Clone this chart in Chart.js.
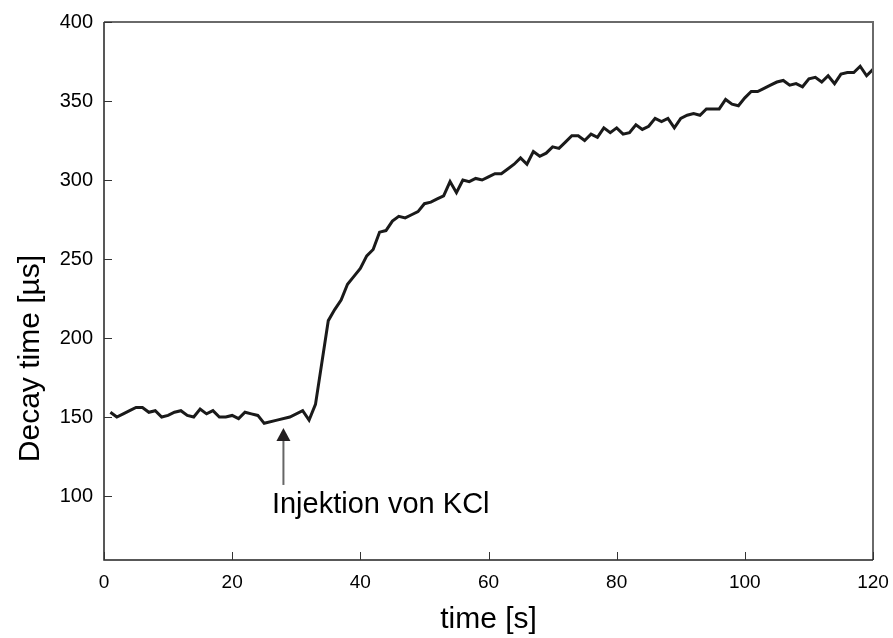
<!DOCTYPE html>
<html>
<head>
<meta charset="utf-8">
<script src="https://cdn.jsdelivr.net/npm/chart.js@4/dist/chart.umd.min.js"></script>
<style>
html,body{margin:0;padding:0;background:#fff;}
#wrap{width:893px;height:638px;}
</style>
</head>
<body>
<div id="wrap"><canvas id="c" width="893" height="638"></canvas></div>
<script>
const timeSeconds = [1,2,3,4,5,6,7,8,9,10,11,12,13,14,15,16,17,18,19,20,21,22,23,24,25,27,29,31,32,33,35,36,37,38,39,40,41,42,43,44,45,46,47,48,49,50,51,52,53,54,55,56,57,58,59,60,61,62,63,64,65,66,67,68,69,70,71,72,73,74,75,76,77,78,79,80,81,82,83,84,85,86,87,88,89,90,91,92,93,94,95,96,97,98,99,100,101,102,103,104,105,106,107,108,109,110,111,112,113,114,115,116,117,118,119,120];
const decayTime = [153,150,152,154,156,156,153,154,150,151,153,154,151,150,155,152,154,150,150,151,149,153,152,151,146,148,150,154,148,158,211,218,224,234,239,244,252,256,267,268,274,277,276,278,280,285,286,288,290,299,292,300,299,301,300,302,304,304,307,310,314,310,318,315,317,321,320,324,328,328,325,329,327,333,330,333,329,330,335,332,334,339,337,339,333,339,341,342,341,345,345,345,351,348,347,352,356,356,358,360,362,363,360,361,359,364,365,362,366,361,367,368,368,372,366,370];
const xTicks = [0,20,40,60,80,100,120];
const yTicks = [100,150,200,250,300,350,400];
const xTitle = "time [s]";
const yTitle = "Decay time [µs]";
const annotationText = "Injektion von KCl";
const annotationTime = 28;

const points = timeSeconds.map((t,i)=>({x:t,y:decayTime[i]}));
const FONT = '"Liberation Sans", Arial, sans-serif';

const frame = {
  id:'frame',
  afterDatasetsDraw(chart){
    const {ctx, chartArea:a, scales:{x,y}} = chart;
    ctx.save();
    ctx.strokeStyle = '#6a6a6a';
    ctx.lineWidth = 2;
    ctx.beginPath(); ctx.moveTo(a.left, a.top); ctx.lineTo(a.right, a.top); ctx.lineTo(a.right, a.bottom); ctx.stroke();
    ctx.strokeStyle = '#222';
    ctx.lineWidth = 1.5;
    ctx.beginPath(); ctx.moveTo(a.left, a.top); ctx.lineTo(a.left, a.bottom); ctx.lineTo(a.right, a.bottom); ctx.stroke();
    ctx.strokeStyle = '#333';
    ctx.lineWidth = 1;
    const tl = 8;
    xTicks.forEach(v=>{
      const px = Math.round(x.getPixelForValue(v))+0.5;
      ctx.beginPath(); ctx.moveTo(px,a.bottom); ctx.lineTo(px,a.bottom-tl); ctx.stroke();
    });
    yTicks.forEach(v=>{
      const py = Math.round(y.getPixelForValue(v))+0.5;
      ctx.beginPath(); ctx.moveTo(a.left,py); ctx.lineTo(a.left+tl,py); ctx.stroke();
    });
    const ax = x.getPixelForValue(annotationTime);
    const tipY = y.getPixelForValue(143);
    const baseY = y.getPixelForValue(107);
    ctx.strokeStyle = '#666';
    ctx.lineWidth = 2;
    ctx.beginPath(); ctx.moveTo(ax, tipY+10); ctx.lineTo(ax, baseY); ctx.stroke();
    ctx.fillStyle = '#231f20';
    ctx.beginPath(); ctx.moveTo(ax, tipY); ctx.lineTo(ax-7, tipY+13); ctx.lineTo(ax+7, tipY+13); ctx.closePath(); ctx.fill();
    ctx.fillStyle = '#000';
    ctx.font = '29px ' + FONT;
    ctx.textBaseline = 'middle';
    ctx.textAlign = 'left';
    ctx.fillText(annotationText, x.getPixelForValue(26.2), y.getPixelForValue(94));
    ctx.save();
    ctx.translate(31, y.getPixelForValue(187));
    ctx.rotate(-Math.PI/2);
    ctx.textAlign = 'center';
    ctx.textBaseline = 'middle';
    ctx.font = '30px ' + FONT;
    ctx.fillText(yTitle, 0, 0);
    ctx.restore();
    ctx.restore();
  }
};

new Chart(document.getElementById('c'), {
  type:'line',
  data:{datasets:[{data:points, borderColor:'#1a1a1a', borderWidth:3, pointRadius:0, tension:0, fill:false}]},
  options:{
    responsive:false, animation:false,
    layout:{padding:{left:0,right:20,top:22,bottom:0}},
    plugins:{legend:{display:false}, tooltip:{enabled:false}},
    scales:{
      x:{type:'linear', min:0, max:120,
        afterBuildTicks(s){ s.ticks = xTicks.map(v=>({value:v})); },
        afterFit(s){ s.height = 78; s.paddingLeft = 0; s.paddingRight = 0; },
        grid:{display:false, drawTicks:false},
        border:{display:false},
        ticks:{color:'#000', padding:11, font:{family:FONT, size:19}, maxRotation:0},
        title:{display:true, text:xTitle, color:'#000', font:{family:FONT, size:30}, padding:{top:4,bottom:0}}
      },
      y:{type:'linear', min:59.5, max:400,
        afterBuildTicks(s){ s.ticks = yTicks.map(v=>({value:v})); },
        afterFit(s){ s.width = 104; s.paddingTop = 0; s.paddingBottom = 0; },
        grid:{display:false, drawTicks:false},
        border:{display:false},
        ticks:{color:'#000', padding:11, font:{family:FONT, size:20}}
      }
    }
  },
  plugins:[frame]
});
</script>
</body>
</html>
